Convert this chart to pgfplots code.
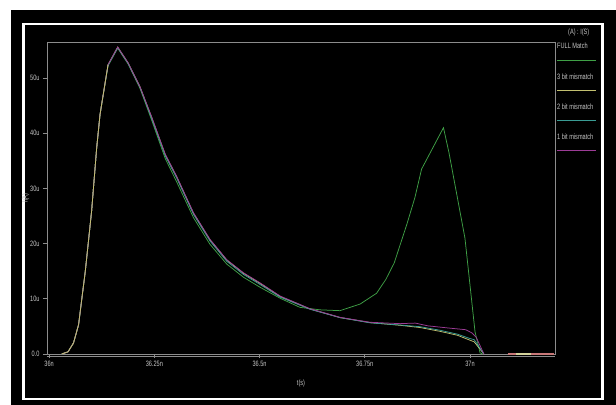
\documentclass[border=0pt]{standalone}
\usepackage{fontspec}
\setmainfont{Liberation Sans}[FakeStretch=0.72]
\usepackage{pgfplots}
\pgfplotsset{compat=1.18}
\definecolor{scopeGrey}{HTML}{8C8C8C}
\definecolor{labGrey}{HTML}{C4C4C4}
\definecolor{fullGreen}{HTML}{3FA046}
\definecolor{bitYellow}{HTML}{C2C070}
\definecolor{bitTeal}{HTML}{3A9C94}
\definecolor{bitPurple}{HTML}{9C3C96}
\definecolor{tailPink}{HTML}{C87878}
\newcommand{\scopefont}{\fontsize{7.8}{8.5}\selectfont}
\begin{document}
\begin{tikzpicture}
% screenshot surround: white margin, black panel, white frame
\fill[white] (0bp,0bp) rectangle (616bp,-405bp);
\fill[black] (11bp,-10bp) rectangle (616bp,-405bp);
\draw[white, line width=2.5bp] (23.5bp,-24bp) rectangle (602.5bp,-399bp);
\useasboundingbox (0bp,0bp) rectangle (616bp,-405bp);
\begin{axis}[at={(47bp,-354bp)}, anchor=south west,
  scale only axis, width=508bp, height=312bp,
  xmin=35.995, xmax=37.202, ymin=0, ymax=56.52,
  axis background/.style={fill=black},
  axis line style={scopeGrey, line width=0.8bp},
  xtick={36,36.25,36.5,36.75,37}, xticklabels={36n,36.25n,36.5n,36.75n,37n},
  ytick={0,10,20,30,40,50}, yticklabels={0.0,10u,20u,30u,40u,50u},
  tick style={scopeGrey, line width=0.8bp}, tick align=outside, major tick length=4bp,
  xtick pos=bottom, ytick pos=left,
  tick label style={text=labGrey, font=\scopefont},
  xlabel={t(s)}, ylabel={I(A)},
  xlabel shift=6bp, ylabel shift=-6bp,
  label style={text=labGrey, font=\scopefont},
  clip=false]
  % FULL Match
  \addplot[fullGreen, line width=0.75bp] coordinates {
    (36.03,0) (36.045,0.4) (36.058,2.0) (36.07,5.3) (36.086,15.0) (36.101,25.9)
    (36.113,37.3) (36.121,43.4) (36.14,52.2) (36.163,55.4) (36.188,52.5) (36.216,48.1)
    (36.244,42.3) (36.276,35.4) (36.303,31.2) (36.343,24.7) (36.382,19.9) (36.422,16.3)
    (36.462,13.9) (36.501,12.1) (36.549,10.1) (36.596,8.45) (36.644,8.0) (36.691,7.85)
    (36.739,9.05) (36.778,11.0) (36.80,13.5) (36.82,16.5) (36.85,23.5) (36.869,28.3)
    (36.885,33.5) (36.937,41.0) (36.95,36.5) (36.988,21.0) (37.012,4.0) (37.024,0.2) (37.03,0)};
  % 3 bit mismatch
  \addplot[bitYellow, line width=0.75bp] coordinates {
    (36.03,0) (36.045,0.4) (36.058,2.0) (36.07,5.3) (36.086,15.0) (36.101,25.9)
    (36.113,37.3) (36.121,43.4) (36.14,52.4) (36.163,55.6) (36.188,52.7) (36.216,48.4)
    (36.244,42.8) (36.276,36.1) (36.303,32.1) (36.343,25.5) (36.382,20.7) (36.422,17.0)
    (36.462,14.6) (36.501,12.8) (36.549,10.4) (36.62,8.15) (36.691,6.6) (36.762,5.7)
    (36.834,5.2) (36.881,4.8) (36.929,4.1) (36.97,3.4) (37.0,2.5) (37.01,2.2) (37.033,0)};
  % 2 bit mismatch
  \addplot[bitTeal, line width=0.75bp] coordinates {
    (36.03,0) (36.045,0.4) (36.058,2.0) (36.07,5.3) (36.086,15.0) (36.101,25.9)
    (36.113,37.3) (36.121,43.4) (36.14,52.3) (36.163,55.5) (36.188,52.6) (36.216,48.3)
    (36.244,42.6) (36.276,35.9) (36.303,31.9) (36.343,25.3) (36.382,20.5) (36.422,16.8)
    (36.462,14.4) (36.501,12.6) (36.549,10.3) (36.62,8.1) (36.691,6.6) (36.762,5.65)
    (36.834,5.25) (36.881,4.95) (36.929,4.3) (36.97,3.6) (37.0,2.8) (37.01,2.6) (37.033,0)};
  % 1 bit mismatch
  \addplot[bitPurple, line width=0.75bp] coordinates {
    (36.03,0) (36.045,0.4) (36.058,2.0) (36.07,5.3) (36.086,15.0) (36.101,25.9)
    (36.113,37.3) (36.121,43.4) (36.14,52.4) (36.163,55.6) (36.188,52.7) (36.216,48.4)
    (36.244,42.9) (36.276,36.2) (36.303,32.2) (36.343,25.6) (36.382,20.8) (36.422,17.1)
    (36.462,14.7) (36.501,12.9) (36.549,10.5) (36.62,8.2) (36.691,6.65) (36.762,5.75)
    (36.834,5.5) (36.87,5.6) (36.9,5.1) (36.95,4.7) (36.99,4.4) (37.005,3.8) (37.015,3.0) (37.033,0)};
  % the rising edge shows in the 3 bit colour on the scope
  \addplot[bitYellow, line width=0.75bp, forget plot] coordinates {
    (36.03,0) (36.045,0.4) (36.058,2.0) (36.07,5.3) (36.086,15.0) (36.101,25.9)
    (36.113,37.3) (36.121,43.4) (36.14,52.4)};
  % settled tail drawn over the zero line
  \addplot[tailPink, line width=1.6bp, forget plot] coordinates {(37.09,0) (37.2,0)};
  \addplot[bitYellow!70!white, line width=1.6bp, forget plot] coordinates {(37.11,0) (37.145,0)};
  % second baseline under the box, carrying the x ticks
  \draw[scopeGrey, line width=0.8bp] ([yshift=-2.5bp]rel axis cs:0,0) -- ([yshift=-2.5bp]rel axis cs:1,0);
\end{axis}
% legend, text above each line as on the scope
\begin{scope}[every node/.style={text=labGrey, font=\scopefont, anchor=west, inner sep=0pt}]
  \node at (568bp,-32bp) {(A) : I(S)};
  \node at (557bp,-46bp) {FULL Match};
  \draw[fullGreen, line width=1bp] (557bp,-60bp) -- (596bp,-60bp);
  \node at (557bp,-77bp) {3 bit  mismatch};
  \draw[bitYellow, line width=1bp] (557bp,-90bp) -- (596bp,-90bp);
  \node at (557bp,-107bp) {2 bit  mismatch};
  \draw[bitTeal, line width=1bp] (557bp,-120bp) -- (596bp,-120bp);
  \node at (557bp,-137bp) {1 bit  mismatch};
  \draw[bitPurple, line width=1bp] (557bp,-150bp) -- (596bp,-150bp);
\end{scope}
\end{tikzpicture}
\end{document}
